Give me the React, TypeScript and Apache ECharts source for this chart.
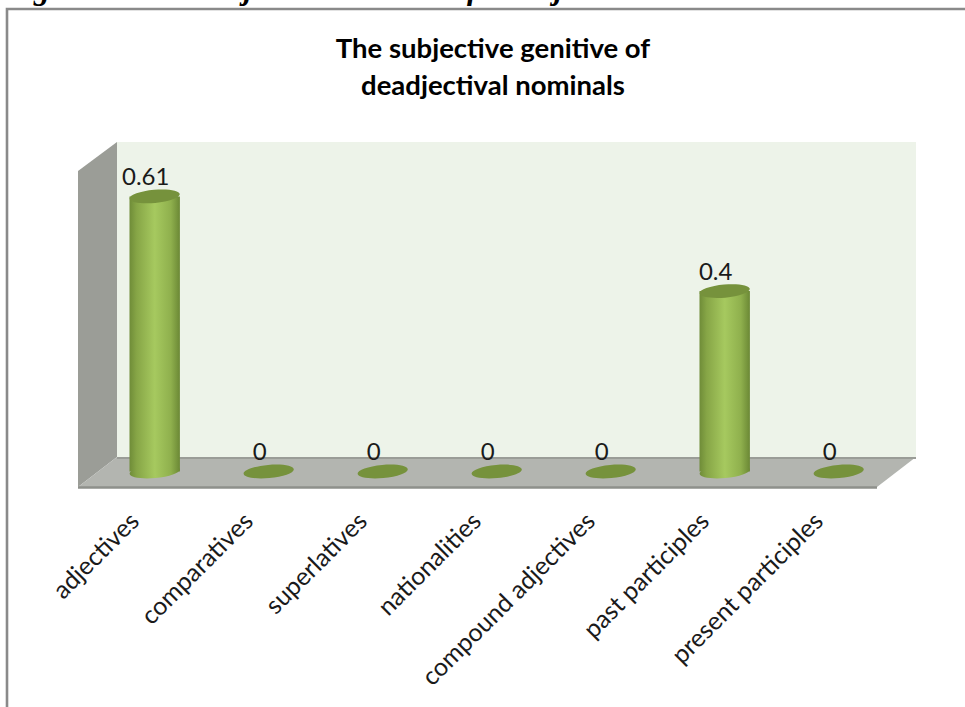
import React, { useEffect, useRef } from "react";
import * as echarts from "echarts";

const categories = [
  "adjectives",
  "comparatives",
  "superlatives",
  "nationalities",
  "compound adjectives",
  "past participles",
  "present participles",
];
const values = [0.61, 0, 0, 0, 0, 0.4, 0];
const titleLines = ["The subjective genitive of", "deadjectival nominals"];
const caption = "Figure 4. The Subjective Genitive of Deadjectival Nominals";

const sans = "Lato, sans-serif";

function renderCylinder(_params: any, api: any) {
  const xIdx = api.value(0);
  const v = api.value(1);
  const top = api.coord([xIdx, v]);
  const base = api.coord([xIdx, 0]);
  const cx = base[0];
  const rx = 25.2;
  const ry = 6.6;
  const tilt = 0.09;
  const topColor = "#76923c";
  const body = new echarts.graphic.LinearGradient(0, 0, 1, 0, [
    { offset: 0, color: "#6f8c38" },
    { offset: 0.14, color: "#86a546" },
    { offset: 0.5, color: "#a6c95f" },
    { offset: 0.82, color: "#8fb04d" },
    { offset: 1, color: "#6b8835" },
  ]);
  const children: any[] = [];
  if (v > 0) {
    children.push({
      type: "ellipse",
      shape: { cx: 0, cy: 0, rx, ry },
      x: cx,
      y: base[1],
      rotation: tilt,
      style: { fill: body },
    });
    children.push({
      type: "rect",
      shape: { x: cx - rx, y: top[1], width: rx * 2, height: base[1] - top[1] },
      style: { fill: body },
    });
  }
  children.push({
    type: "ellipse",
    shape: { cx: 0, cy: 0, rx, ry },
    x: cx,
    y: top[1],
    rotation: tilt,
    style: { fill: topColor },
  });
  children.push({
    type: "text",
    x: cx - 9,
    y: top[1] - 21,
    style: {
      text: String(v),
      font: `24px ${sans}`,
      fill: "#1a1a1a",
      align: "center",
      verticalAlign: "middle",
    },
  });
  return { type: "group", children };
}

export default function App() {
  const ref = useRef<HTMLDivElement>(null);
  useEffect(() => {
    const chart = echarts.init(ref.current!, undefined, { renderer: "svg" });
    chart.setOption({
      animation: false,
      backgroundColor: "#ffffff",
      title: {
        text: titleLines.join("\n"),
        left: 488,
        top: 24,
        textAlign: "center",
        textStyle: {
          fontFamily: sans,
          fontWeight: "bold",
          fontSize: 27.5,
          lineHeight: 37,
          color: "#000000",
        },
      },
      grid: { left: 97.7, top: 155.8, width: 798, height: 315.7 },
      xAxis: {
        type: "category",
        data: categories,
        axisLine: { show: false },
        axisTick: { show: false },
        axisLabel: {
          interval: 0,
          rotate: 45,
          margin: 23,
          padding: [0, 30, 0, 0],
          fontFamily: sans,
          fontSize: 25,
          color: "#1a1a1a",
        },
      },
      yAxis: { type: "value", min: 0, max: 0.7, interval: 0.1, show: false },
      graphic: [
        {
          type: "text",
          x: 4,
          y: -27.5,
          style: {
            text: caption,
            font: "italic bold 31.7px 'Liberation Serif', serif",
            fill: "#000000",
          },
        },
        {
          type: "rect",
          shape: { x: 7, y: 9, width: 1000, height: 740 },
          style: { fill: "#ffffff", stroke: "#8a8a8a", lineWidth: 2.6 },
        },
        {
          type: "polygon",
          shape: { points: [[117, 142], [916, 142], [916, 457], [117, 457]] },
          style: { fill: "#edf3e9" },
        },
        {
          type: "polygon",
          shape: { points: [[78, 171], [117, 142], [117, 457], [78, 487]] },
          style: { fill: "#9b9d97" },
        },
        {
          type: "polygon",
          shape: { points: [[117, 457], [916, 457], [877, 487], [78, 487]] },
          style: { fill: "#b3b5b0" },
        },
        {
          type: "line",
          shape: { x1: 117, y1: 458, x2: 916, y2: 458 },
          style: { stroke: "#9a9c97", lineWidth: 2 },
        },
        {
          type: "line",
          shape: { x1: 78, y1: 487.5, x2: 877, y2: 487.5 },
          style: { stroke: "#8e908b", lineWidth: 2.5 },
        },
      ],
      series: [
        {
          type: "custom",
          coordinateSystem: "cartesian2d",
          renderItem: renderCylinder,
          encode: { x: 0, y: 1 },
          data: values.map((v, i) => [i, v]),
          clip: false,
        },
      ],
    });
    return () => chart.dispose();
  }, []);
  return (
    <div
      ref={ref}
      style={{ position: "fixed", left: 0, top: 0, width: 965, height: 707 }}
    />
  );
}
